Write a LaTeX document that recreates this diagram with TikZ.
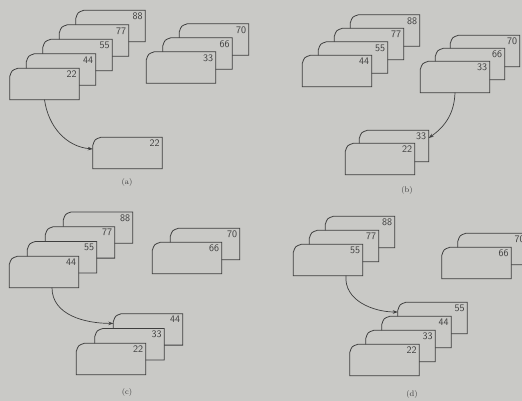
\documentclass[tikz,border=0pt]{standalone}
\usetikzlibrary{arrows.meta}
\definecolor{paper}{RGB}{201,201,198}
\definecolor{ink}{RGB}{62,62,62}
\tikzset{
  cardbox/.style={rectangle, inner sep=0pt, minimum width=69pt, minimum height=31pt},
  cardline/.style={draw=ink, line width=0.8pt, fill=paper},
  num/.style={anchor=north east, inner sep=2.5pt, text=ink,
    font=\sffamily\fontsize{10}{12}\selectfont},
  move/.style={-{Stealth[length=5pt,width=3.5pt]}, draw=ink, line width=0.7pt},
  caption/.style={text=ink, font=\fontsize{8}{9}\selectfont}
}
% Karte mit abgeschraegter Ecke oben links: Name, x, y, Zahl
\newcommand{\card}[4]{%
  \node[cardbox] (#1) at (#2,#3) {};
  \path[cardline] (#1.south west) -- ([yshift=-8pt]#1.north west)
    .. controls ([xshift=2pt,yshift=-2pt]#1.north west) .. ([xshift=8pt]#1.north west)
    -- (#1.north east) -- (#1.south east) -- cycle;
  \node[num] (#1n) at (#1.north east) {#4};}
\begin{document}
\begin{tikzpicture}[x=1pt, y=-1pt]
\clip (0,0) rectangle (522,401);
\fill[paper] (0,0) rectangle (522,401);
% (a) zwei sortierte Stapel, 22 wird abgelegt
\foreach \k/\v in {4/88,3/77,2/55,1/44,0/22}
  {\card{al\v}{44.5+\k*16.5}{84-\k*14.5}{\v}}
\foreach \k/\v in {2/70,1/66,0/33}
  {\card{ar\v}{181+\k*16.5}{67.5-\k*14}{\v}}
\card{ao22}{127.5}{153}{22}
\draw[move] (al22.south) to[out=-82,in=175] ([yshift=4pt]ao22.west);
\node[caption] (capa) at (127,182) {(a)};
% (b) 33 kommt vom rechten Stapel
\foreach \k/\v in {3/88,2/77,1/55,0/44}
  {\card{bl\v}{337+\k*16}{71-\k*13.5}{\v}}
\foreach \k/\v in {2/70,1/66,0/33}
  {\card{br\v}{455+\k*15}{77-\k*13}{\v}}
\foreach \k/\v in {1/33,0/22}
  {\card{bo\v}{380+\k*14}{159-\k*13}{\v}}
\draw[move] (br33.south) to[out=-92,in=35] ([yshift=8pt]bo33.east);
\node[caption] (capb) at (407,191) {(b)};
% (c) 44 kommt vom linken Stapel
\foreach \k/\v in {3/88,2/77,1/55,0/44}
  {\card{cl\v}{44+\k*18}{272-\k*14.8}{\v}}
\foreach \k/\v in {1/70,0/66}
  {\card{cr\v}{187+\k*18}{258-\k*14}{\v}}
\foreach \k/\v in {2/44,1/33,0/22}
  {\card{co\v}{111+\k*18.5}{359-\k*14.8}{\v}}
\draw[move] ([xshift=8pt]cl44.south) to[out=-90,in=180] ([yshift=6pt]co44.west);
\node[caption] (capc) at (127,392) {(c)};
% (d) 55 kommt vom linken Stapel
\foreach \k/\v in {2/88,1/77,0/55}
  {\card{dl\v}{328+\k*16}{260-\k*14}{\v}}
\foreach \k/\v in {1/70,0/66}
  {\card{dr\v}{476.5+\k*16}{263-\k*14}{\v}}
\foreach \k/\v in {3/55,2/44,1/33,0/22}
  {\card{do\v}{384.5+\k*16}{360-\k*14}{\v}}
\draw[move] ([xshift=18pt]dl55.south) to[out=-95,in=180] ([yshift=6pt]do55.west);
\node[caption] (capd) at (412,394) {(d)};
\end{tikzpicture}
\end{document}
